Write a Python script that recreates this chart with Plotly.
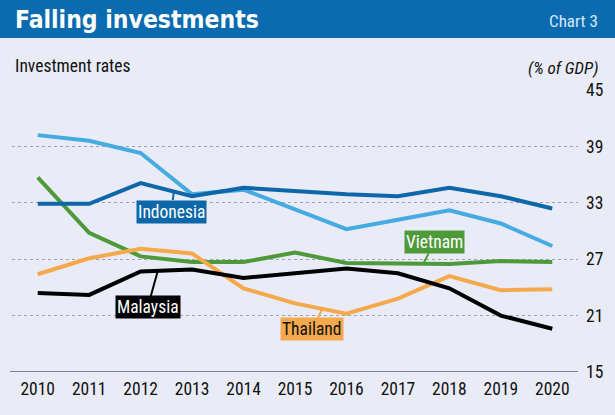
import plotly.graph_objects as go

years = list(range(2010, 2021))
indonesia = [32.9, 32.9, 35.1, 33.7, 34.6, 34.2, 33.9, 33.7, 34.6, 33.7, 32.4]
india = [40.2, 39.6, 38.3, 33.9, 34.4, 32.3, 30.2, 31.2, 32.2, 30.8, 28.4]
vietnam = [35.7, 29.8, 27.3, 26.7, 26.7, 27.7, 26.6, 26.6, 26.5, 26.8, 26.7]
thailand = [25.4, 27.1, 28.1, 27.6, 23.9, 22.3, 21.2, 22.8, 25.2, 23.7, 23.8]
malaysia = [23.4, 23.2, 25.7, 25.9, 25.0, 25.5, 26.0, 25.5, 23.9, 21.0, 19.6]
y_ticks = [15, 21, 27, 33, 39, 45]

BG = "#e9ecf7"
FONT = "Roboto Condensed, DejaVu Sans Condensed, sans-serif"
TFONT = "DejaVu Sans Condensed, Roboto Condensed, sans-serif"

fig = go.Figure()
series = [
    ("India", india, "#45abe0"),
    ("Vietnam", vietnam, "#4e9a3a"),
    ("Thailand", thailand, "#f5a94d"),
    ("Malaysia", malaysia, "#000000"),
    ("Indonesia", indonesia, "#0d67a8"),
]
for name, vals, col in series:
    fig.add_trace(go.Scatter(x=years, y=vals, mode="lines", name=name,
                             line=dict(color=col, width=4), hoverinfo="skip"))

L, R, T, B = 12, 37, 90, 43
W, HH = 615, 415
PW = W - L - R
PH = HH - T - B

def py(px):
    return 1 + (T - px) / PH

def px_(x):
    return (x - L) / PW

fig.update_layout(
    width=W, height=HH,
    margin=dict(l=L, r=R, t=T, b=B, autoexpand=False),
    paper_bgcolor=BG, plot_bgcolor=BG,
    showlegend=False,
    font=dict(family=FONT, size=17, color="#111111"),
    xaxis=dict(range=[2009.5, 2020.5], tickvals=years, ticktext=[str(y) for y in years],
               showgrid=False, zeroline=False, showline=False, ticks="",
               tickfont=dict(size=17.5, color="#111111"), ticklabelstandoff=4,
               automargin=False, fixedrange=True),
    yaxis=dict(range=[15, 45], tickvals=y_ticks, side="right",
               showgrid=True, gridcolor="#9ea3b3", griddash="dot", gridwidth=1,
               zeroline=False, showline=False, ticks="", tickfont=dict(size=17.5, color="#111111"),
               ticklabelstandoff=7, automargin=False, fixedrange=True),
    shapes=[
        dict(type="rect", xref="paper", yref="paper", x0=px_(-2), x1=px_(W + 2),
             y0=py(38), y1=py(-2), fillcolor="#0b6bb0", line=dict(width=0), layer="below"),
        dict(type="line", xref="paper", yref="y", x0=px_(10), x1=1.0, y0=15, y1=15,
             line=dict(color="#5a5d66", width=1.5)),
    ],
)

ann = []
ann.append(dict(text="<b>Falling investments</b>", xref="paper", yref="paper",
                x=px_(13), y=py(19), xanchor="left", yanchor="middle", showarrow=False,
                font=dict(size=24.5, color="white", family=TFONT)))
ann.append(dict(text="Chart 3", xref="paper", yref="paper", x=px_(600), y=py(21),
                xanchor="right", yanchor="middle", showarrow=False,
                font=dict(size=17, color="#d4e9f8", family=FONT)))
ann.append(dict(text="Investment rates", xref="paper", yref="paper", x=px_(13), y=py(66),
                xanchor="left", yanchor="middle", showarrow=False,
                font=dict(size=17.5, color="#111111", family=FONT)))
ann.append(dict(text="<i>(% of GDP)</i>", xref="paper", yref="paper", x=px_(600), y=py(68),
                xanchor="right", yanchor="middle", showarrow=False,
                font=dict(size=17, color="#111111", family=FONT)))

labels = [
    ("Indonesia", 2012.65, 34.3, -3, 21, "#0d67a8", "white"),
    ("Vietnam", 2017.5, 26.6, 11, -21, "#4e9a3a", "white"),
    ("Malaysia", 2012.33, 25.7, -10, 36, "#000000", "white"),
    ("Thailand", 2015.53, 21.7, -10, 20, "#f5a94d", "#111111"),
]
for txt, x, y, ax, ay, bg, fc in labels:
    ann.append(dict(text=txt, x=x, y=y, xref="x", yref="y", ax=ax, ay=ay,
                    showarrow=True, arrowhead=0, arrowwidth=2, arrowcolor=bg,
                    bgcolor=bg, borderpad=1, font=dict(size=17.5, color=fc, family=FONT)))
fig.update_layout(annotations=ann)

fig.write_html("out.html", config={"displayModeBar": False},
               post_script="document.body.style.margin='0';document.body.style.overflow='hidden';")
